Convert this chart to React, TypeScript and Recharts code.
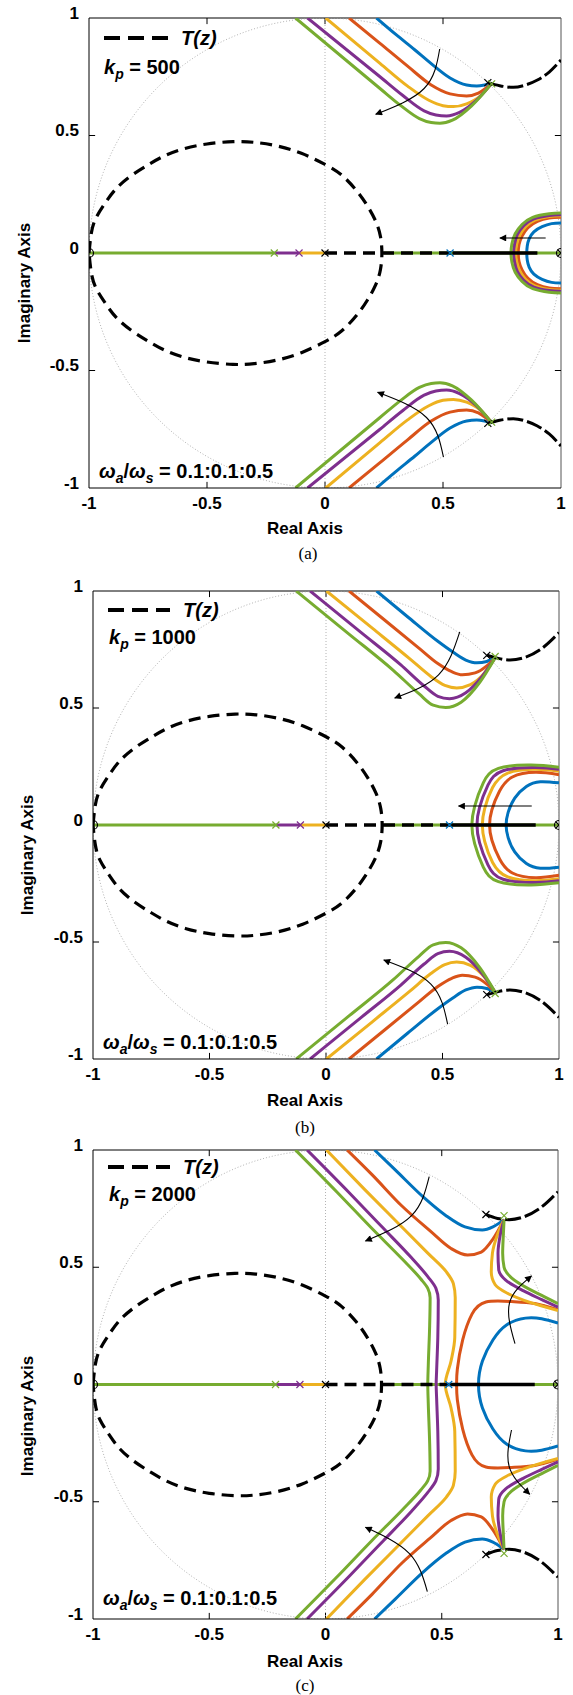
import React from "react";
import { ComposedChart, Line, Scatter, XAxis, YAxis, ReferenceLine } from "recharts";

type Pt = [number, number];

const BLUE = "#0072BD";
const RED = "#D95319";
const YELLOW = "#EDB120";
const PURPLE = "#7E2F8E";
const GREEN = "#77AC30";
const COLORS = [BLUE, RED, YELLOW, PURPLE, GREEN];

const TICKS = [-1, -0.5, 0, 0.5, 1];
const INNER_TICKS = [-0.5, 0, 0.5];
const GAINS = ["500", "1000", "2000"];
const CAPTIONS = ["(a)", "(b)", "(c)"];
const RATIO_LABEL = "0.1:0.1:0.5";

// T(z) closed loop, upper half (same in every panel)
const T_LOOP_UPPER: Pt[] = [
  [-1, 0], [-0.99, 0.085], [-0.97, 0.15], [-0.93, 0.215], [-0.884, 0.275], [-0.82, 0.33],
  [-0.75, 0.375], [-0.683, 0.412], [-0.6, 0.443], [-0.5, 0.464], [-0.39, 0.474], [-0.3, 0.471],
  [-0.205, 0.456], [-0.1, 0.424], [0, 0.377], [0.07, 0.332], [0.134, 0.265], [0.18, 0.2],
  [0.215, 0.135], [0.235, 0.07], [0.241, 0],
];

// ---- panel (a), kp = 500 : upper branches blue..green
const A_UPPER: Pt[][] = [
  [[0.218, 1], [0.3, 0.93], [0.38, 0.865], [0.45, 0.806], [0.53, 0.745], [0.6, 0.715], [0.643, 0.711], [0.68, 0.716], [0.706, 0.722]],
  [[0.102, 1], [0.233, 0.892], [0.35, 0.795], [0.45, 0.715], [0.53, 0.677], [0.6, 0.668], [0.65, 0.68], [0.68, 0.7], [0.706, 0.722]],
  [[0.003, 1], [0.233, 0.807], [0.35, 0.71], [0.44, 0.65], [0.5, 0.627], [0.544, 0.623], [0.6, 0.635], [0.66, 0.67], [0.706, 0.722]],
  [[-0.074, 1], [0.233, 0.75], [0.33, 0.67], [0.42, 0.605], [0.47, 0.587], [0.515, 0.583], [0.57, 0.598], [0.64, 0.648], [0.706, 0.722]],
  [[-0.125, 1], [0.233, 0.7], [0.32, 0.628], [0.4, 0.572], [0.45, 0.555], [0.487, 0.552], [0.54, 0.565], [0.62, 0.625], [0.706, 0.722]],
];
const A_LOOPS: Pt[][] = [
  [[1, 0.128], [0.96, 0.125], [0.92, 0.112], [0.885, 0.09], [0.865, 0.06], [0.857, 0.03], [0.855, 0]],
  [[1, 0.152], [0.95, 0.149], [0.9, 0.135], [0.86, 0.108], [0.835, 0.072], [0.822, 0.035], [0.819, 0]],
  [[1, 0.158], [0.95, 0.155], [0.89, 0.14], [0.85, 0.112], [0.825, 0.075], [0.812, 0.036], [0.808, 0]],
  [[1, 0.163], [0.95, 0.16], [0.885, 0.145], [0.842, 0.116], [0.815, 0.078], [0.803, 0.037], [0.799, 0]],
  [[1, 0.17], [0.95, 0.167], [0.88, 0.152], [0.835, 0.121], [0.806, 0.082], [0.792, 0.039], [0.788, 0]],
];
const A_BLACK: Pt[] = [[0.69, 0.725], [0.74, 0.712], [0.798, 0.705], [0.85, 0.715], [0.9, 0.736], [0.95, 0.77], [1, 0.821]];
const A_ARROWS: Pt[][] = [
  [[0.486, 0.868], [0.42, 0.7], [0.215, 0.59]],
  [[0.502, -0.869], [0.43, -0.7], [0.223, -0.593]],
  [[0.935, 0.064], [0.741, 0.064]],
];

// ---- panel (b), kp = 1000
const B_UPPER: Pt[][] = [
  [[0.217, 1], [0.35, 0.89], [0.48, 0.785], [0.546, 0.738], [0.6, 0.705], [0.648, 0.693], [0.69, 0.699], [0.726, 0.715]],
  [[0.099, 1], [0.25, 0.877], [0.4, 0.755], [0.48, 0.69], [0.54, 0.655], [0.585, 0.642], [0.64, 0.65], [0.69, 0.68], [0.726, 0.715]],
  [[0.002, 1], [0.2, 0.84], [0.36, 0.71], [0.45, 0.635], [0.51, 0.597], [0.561, 0.586], [0.62, 0.6], [0.68, 0.65], [0.726, 0.715]],
  [[-0.068, 1], [0.15, 0.823], [0.32, 0.685], [0.42, 0.595], [0.48, 0.55], [0.53, 0.54], [0.6, 0.565], [0.67, 0.635], [0.726, 0.715]],
  [[-0.128, 1], [0.1, 0.815], [0.29, 0.66], [0.4, 0.56], [0.46, 0.512], [0.514, 0.502], [0.58, 0.525], [0.66, 0.61], [0.726, 0.715]],
];
const B_LOOPS: Pt[][] = [
  [[1, 0.18], [0.92, 0.185], [0.86, 0.165], [0.81, 0.115], [0.782, 0.055], [0.773, 0]],
  [[1, 0.215], [0.9, 0.225], [0.8, 0.205], [0.745, 0.145], [0.712, 0.065], [0.702, 0]],
  [[1, 0.23], [0.9, 0.238], [0.78, 0.222], [0.715, 0.16], [0.681, 0.07], [0.671, 0]],
  [[1, 0.238], [0.9, 0.246], [0.76, 0.232], [0.695, 0.17], [0.659, 0.075], [0.648, 0]],
  [[1, 0.247], [0.88, 0.256], [0.74, 0.242], [0.675, 0.18], [0.638, 0.08], [0.626, 0]],
];
const B_BLACK: Pt[] = [[0.69, 0.726], [0.74, 0.712], [0.79, 0.705], [0.85, 0.715], [0.92, 0.75], [1, 0.822]];
const B_ARROWS: Pt[][] = [
  [[0.574, 0.825], [0.483, 0.642], [0.295, 0.543]],
  [[0.522, -0.851], [0.45, -0.68], [0.248, -0.577]],
  [[0.883, 0.081], [0.569, 0.081]],
];

// ---- panel (c), kp = 2000
const C_UPPER: Pt[][] = [
  [[0.211, 1], [0.3, 0.915], [0.42, 0.8], [0.517, 0.721], [0.6, 0.672], [0.674, 0.659], [0.72, 0.672], [0.768, 0.703]],
  [[0.093, 1], [0.2, 0.895], [0.33, 0.76], [0.45, 0.655], [0.54, 0.58], [0.611, 0.552], [0.67, 0.565], [0.72, 0.62], [0.768, 0.703]],
];
const C_LEFT: Pt[][] = [
  [[0.004, 1], [0.17, 0.83], [0.32, 0.68], [0.44, 0.56], [0.52, 0.48], [0.55, 0.43], [0.558, 0.37], [0.556, 0.2], [0.54, 0.1], [0.515, 0]],
  [[-0.079, 1], [0.1, 0.82], [0.25, 0.665], [0.37, 0.54], [0.44, 0.46], [0.475, 0.41], [0.485, 0.36], [0.483, 0.2], [0.478, 0.06], [0.476, 0]],
  [[-0.129, 1], [0.05, 0.82], [0.2, 0.665], [0.33, 0.535], [0.41, 0.45], [0.44, 0.41], [0.45, 0.37], [0.448, 0.25], [0.442, 0.08], [0.44, 0]],
];
const C_POLE: Pt[][] = [
  [[0.768, 0.703], [0.74, 0.64], [0.718, 0.56], [0.713, 0.48], [0.73, 0.425], [0.78, 0.39], [0.88, 0.35], [1, 0.315]],
  [[0.768, 0.703], [0.752, 0.64], [0.742, 0.56], [0.745, 0.49], [0.775, 0.445], [0.85, 0.4], [0.93, 0.362], [1, 0.33]],
  [[0.768, 0.703], [0.765, 0.64], [0.762, 0.56], [0.768, 0.5], [0.8, 0.455], [0.87, 0.41], [0.94, 0.375], [1, 0.345]],
];
const C_LOOPS: Pt[][] = [
  [[1, 0.262], [0.93, 0.28], [0.86, 0.283], [0.78, 0.255], [0.72, 0.19], [0.675, 0.1], [0.658, 0]],
  [[1, 0.318], [0.9, 0.345], [0.8, 0.354], [0.69, 0.352], [0.63, 0.3], [0.59, 0.19], [0.567, 0.065], [0.564, 0]],
];
const C_BLACK: Pt[] = [[0.69, 0.725], [0.74, 0.708], [0.79, 0.703], [0.85, 0.714], [0.92, 0.75], [1, 0.822]];
const C_ARROWS: Pt[][] = [
  [[0.446, 0.886], [0.37, 0.72], [0.172, 0.612]],
  [[0.815, 0.174], [0.791, 0.346], [0.886, 0.463]],
  [[0.8, -0.194], [0.79, -0.35], [0.878, -0.468]],
  [[0.438, -0.883], [0.36, -0.72], [0.172, -0.609]],
];

// real-axis pieces
const REAL_GREEN: Pt[] = [[-1, 0], [-0.215, 0]];
const REAL_PURPLE: Pt[] = [[-0.215, 0], [-0.11, 0]];
const REAL_YELLOW: Pt[] = [[-0.11, 0], [0, 0]];
const REAL_GREEN_RIGHT: Pt[] = [[0.25, 0], [1, 0]];
const REAL_BLACK_DASH: Pt[] = [[0, 0], [0.54, 0]];
const REAL_BLACK_SOLID: Pt[] = [[0.54, 0], [0.9, 0]];

const BLACK_X: Pt[] = [[0, 0], [0.69, 0.725], [0.69, -0.725], [1, 0]];
const BLACK_O: Pt[] = [[-1, 0], [1, 0]];
const MEET_X = [0.706, 0.726, 0.768];

const conj = (pts: Pt[]): Pt[] => pts.map(([x, y]) => [x, -y] as Pt);
const throughAxis = (upper: Pt[]): Pt[] => [...upper, ...conj(upper).reverse().slice(1)];
const toObj = (pts: Pt[]) => pts.map(([x, y]) => ({ x, y }));

// unit circle reference (zgrid style)
const UNIT_CIRCLE: Pt[] = Array.from({ length: 145 }, (_, i) => {
  const a = (i / 144) * 2 * Math.PI;
  return [Math.cos(a), Math.sin(a)] as Pt;
});

type Curve = "monotone" | "monotoneY" | "natural" | "linear";
interface Trace {
  pts: Pt[];
  color: string;
  width: number;
  curve: Curve;
  dash?: string;
  arrow?: boolean;
}

const LW = 3;

function panelTraces(p: number): Trace[] {
  const t: Trace[] = [];
  const add = (pts: Pt[], color: string, width: number, curve: Curve, dash?: string, arrow?: boolean) =>
    t.push({ pts, color, width, curve, dash, arrow });

  add(REAL_GREEN, GREEN, 3, "linear");
  add(REAL_PURPLE, PURPLE, 3, "linear");
  add(REAL_YELLOW, YELLOW, 3, "linear");
  add(REAL_GREEN_RIGHT, GREEN, 3, "linear");

  if (p < 2) {
    const upper = p === 0 ? A_UPPER : B_UPPER;
    const loops = p === 0 ? A_LOOPS : B_LOOPS;
    upper.forEach((u, i) => {
      add(u, COLORS[i], LW, "monotone");
      add(conj(u), COLORS[i], LW, "monotone");
    });
    loops.forEach((l, i) => add(throughAxis(l), COLORS[i], LW, "natural"));
  } else {
    C_UPPER.forEach((u, i) => {
      add(u, COLORS[i], LW, "monotone");
      add(conj(u), COLORS[i], LW, "monotone");
    });
    C_LOOPS.forEach((l, i) => add(throughAxis(l), COLORS[i], LW, "natural"));
    C_LEFT.forEach((l, i) => add(throughAxis(l), COLORS[i + 2], LW, "monotoneY"));
    C_POLE.forEach((l, i) => {
      add(l, COLORS[i + 2], LW, "monotoneY");
      add(conj(l).reverse(), COLORS[i + 2], LW, "monotoneY");
    });
  }

  add(throughAxis(T_LOOP_UPPER), "#000", 3.2, "natural", "12 7");
  const black = [A_BLACK, B_BLACK, C_BLACK][p];
  add(black, "#000", 3, "monotone", "16 4");
  add(conj(black), "#000", 3, "monotone", "16 4");
  add(REAL_BLACK_DASH, "#000", 3.5, "linear", "12 7");
  add(REAL_BLACK_SOLID, "#000", 3.5, "linear");

  [A_ARROWS, B_ARROWS, C_ARROWS][p].forEach((a) => add(a, "#000", 1.1, a.length > 2 ? "natural" : "linear", undefined, true));
  return t;
}

const FONT = "Arial, 'Liberation Sans', Helvetica, sans-serif";
const fmt = (v: number) => (v === 0 ? "0" : String(v));

const XTick = (props: any) => (
  <text x={props.x} y={props.y + 21} textAnchor="middle" fontFamily={FONT} fontWeight="bold" fontSize={17} fill="#000">
    {fmt(props.payload.value)}
  </text>
);
const YTick = (props: any) => (
  <text x={props.x - 10} y={props.y + 0.5} textAnchor="end" fontFamily={FONT} fontWeight="bold" fontSize={17} fill="#000">
    {fmt(props.payload.value)}
  </text>
);

const crossShape = (color: string) => (props: any) => {
  const { cx, cy } = props;
  if (cx == null || cy == null) return <g />;
  const s = 3.5;
  return (
    <path
      d={`M${cx - s},${cy - s}L${cx + s},${cy + s}M${cx - s},${cy + s}L${cx + s},${cy - s}`}
      stroke={color}
      strokeWidth={1.2}
      fill="none"
    />
  );
};
const circleShape = (props: any) => {
  const { cx, cy } = props;
  if (cx == null || cy == null) return <g />;
  return <circle cx={cx} cy={cy} r={4.5} stroke="#000" strokeWidth={1.2} fill="none" />;
};

interface Layout {
  plotLeft: number;
  plotRight: number;
  plotTop: number;
  plotBottom: number;
  sampleX: [number, number];
  sampleY: number;
  tzX: number;
  kpX: number;
  kpY: number;
  omegaX: number;
  omegaY: number;
  imag: [number, number];
  real: [number, number];
  caption: [number, number];
}

const LAYOUTS: Layout[] = [
  { plotLeft: 89, plotRight: 561, plotTop: 18, plotBottom: 488, sampleX: [104, 168], sampleY: 38, tzX: 181, kpX: 104, kpY: 67, omegaX: 99, omegaY: 471, imag: [24, 283], real: [305, 528], caption: [308, 553] },
  { plotLeft: 93, plotRight: 559, plotTop: 591, plotBottom: 1059, sampleX: [108, 170], sampleY: 610, tzX: 183, kpX: 109, kpY: 637, omegaX: 103, omegaY: 1042, imag: [27, 855], real: [305, 1100], caption: [305, 1127] },
  { plotLeft: 93, plotRight: 558, plotTop: 1150, plotBottom: 1619, sampleX: [108, 170], sampleY: 1167, tzX: 183, kpX: 109, kpY: 1194, omegaX: 103, omegaY: 1598, imag: [27, 1416], real: [305, 1661], caption: [305, 1685] },
];

const abs = (x: number, y: number, extra: React.CSSProperties = {}): React.CSSProperties => ({
  position: "absolute",
  left: x,
  top: y,
  lineHeight: 1,
  whiteSpace: "nowrap",
  ...extra,
});

function Panel({ p }: { p: number }) {
  const L = LAYOUTS[p];
  const chartTop = L.plotTop - 18;
  const height = L.plotBottom - chartTop + 30;
  const traces = panelTraces(p);
  const tickLen = 0.026;
  const legendFont: React.CSSProperties = { fontFamily: FONT, fontWeight: "bold", fontSize: 20, color: "#000" };
  const subStyle: React.CSSProperties = { fontSize: 14, fontStyle: "italic" };

  return (
    <>
      <div style={abs(0, chartTop)}>
        <ComposedChart
          width={573}
          height={height}
          margin={{ top: 18, left: L.plotLeft - 60, right: 573 - L.plotRight, bottom: 0 }}
        >
          <XAxis
            dataKey="x"
            type="number"
            domain={[-1, 1]}
            ticks={TICKS}
            interval={0}
            allowDataOverflow
            height={30}
            tickSize={0}
            tickMargin={0}
            tick={XTick}
            axisLine={{ stroke: "#000", strokeWidth: 1 }}
          />
          <YAxis
            dataKey="y"
            type="number"
            domain={[-1, 1]}
            ticks={TICKS}
            interval={0}
            allowDataOverflow
            width={60}
            tickSize={0}
            tickMargin={0}
            tick={YTick}
            axisLine={{ stroke: "#000", strokeWidth: 1 }}
          />
          <ReferenceLine y={1} stroke="#000" strokeWidth={1} />
          <ReferenceLine x={1} stroke="#555" strokeWidth={1} />
          {INNER_TICKS.map((v) => (
            <ReferenceLine key={`tb${v}`} segment={[{ x: v, y: -1 }, { x: v, y: -1 + tickLen }]} stroke="#000" />
          ))}
          {INNER_TICKS.map((v) => (
            <ReferenceLine key={`tt${v}`} segment={[{ x: v, y: 1 }, { x: v, y: 1 - tickLen }]} stroke="#000" />
          ))}
          {INNER_TICKS.map((v) => (
            <ReferenceLine key={`tl${v}`} segment={[{ x: -1, y: v }, { x: -1 + tickLen, y: v }]} stroke="#000" />
          ))}
          {INNER_TICKS.map((v) => (
            <ReferenceLine key={`tr${v}`} segment={[{ x: 1, y: v }, { x: 1 - tickLen, y: v }]} stroke="#000" />
          ))}
          <Line
            data={toObj(UNIT_CIRCLE)}
            dataKey="y"
            type="linear"
            stroke="#a0a0a0"
            strokeWidth={0.8}
            strokeDasharray="1 2"
            dot={false}
            activeDot={false}
            isAnimationActive={false}
          />
          <Line
            data={toObj([[0, -1], [0, 1]])}
            dataKey="y"
            type="linear"
            stroke="#a0a0a0"
            strokeWidth={0.8}
            strokeDasharray="1 2"
            dot={false}
            activeDot={false}
            isAnimationActive={false}
          />
          {traces.map((tr, i) => (
            <Line
              key={`tr${i}`}
              data={toObj(tr.pts)}
              dataKey="y"
              type={tr.curve}
              stroke={tr.color}
              strokeWidth={tr.width}
              strokeDasharray={tr.dash}
              markerEnd={tr.arrow ? "url(#rl-arrow)" : undefined}
              dot={false}
              activeDot={false}
              isAnimationActive={false}
            />
          ))}
          <Scatter data={toObj(BLACK_O)} dataKey="y" shape={circleShape} isAnimationActive={false} />
          <Scatter data={toObj(BLACK_X)} dataKey="y" shape={crossShape("#000")} isAnimationActive={false} />
          <Scatter
            data={toObj([[-0.215, 0], [MEET_X[p], 0.72], [MEET_X[p], -0.72]])}
            dataKey="y"
            shape={crossShape(GREEN)}
            isAnimationActive={false}
          />
          <Scatter data={toObj([[-0.11, 0]])} dataKey="y" shape={crossShape(PURPLE)} isAnimationActive={false} />
          <Scatter data={toObj([[0.53, 0]])} dataKey="y" shape={crossShape(BLUE)} isAnimationActive={false} />
        </ComposedChart>
      </div>

      <svg style={abs(L.sampleX[0], L.sampleY - 3)} width={L.sampleX[1] - L.sampleX[0]} height={6}>
        <line x1={0} y1={3} x2={L.sampleX[1] - L.sampleX[0]} y2={3} stroke="#000" strokeWidth={4} strokeDasharray="16 8" />
      </svg>
      <div style={abs(L.tzX, L.sampleY - 10, { ...legendFont, fontStyle: "italic" })}>T(z)</div>
      <div style={abs(L.kpX, L.kpY - 10, legendFont)}>
        <i>k</i>
        <sub style={subStyle}>p</sub> = {GAINS[p]}
      </div>
      <div style={abs(L.omegaX, L.omegaY - 10, legendFont)}>
        <i>ω</i>
        <sub style={subStyle}>a</sub>/<i>ω</i>
        <sub style={subStyle}>s</sub> = {RATIO_LABEL}
      </div>
      <div
        style={abs(L.imag[0], L.imag[1], {
          fontFamily: FONT,
          fontWeight: "bold",
          fontSize: 17,
          transform: "translate(-50%, -50%) rotate(-90deg)",
        })}
      >
        Imaginary Axis
      </div>
      <div style={abs(L.real[0], L.real[1], { fontFamily: FONT, fontWeight: "bold", fontSize: 17, transform: "translate(-50%, -50%)" })}>
        Real Axis
      </div>
      <div
        style={abs(L.caption[0], L.caption[1], {
          fontFamily: "'Times New Roman', 'Liberation Serif', serif",
          fontSize: 17,
          transform: "translate(-50%, -50%)",
        })}
      >
        {CAPTIONS[p]}
      </div>
    </>
  );
}

export default function App() {
  return (
    <div style={{ position: "absolute", left: 0, top: 0, width: 573, height: 1695, background: "#fff" }}>
      <svg width={0} height={0} style={{ position: "absolute" }}>
        <defs>
          <marker
            id="rl-arrow"
            viewBox="0 0 10 10"
            refX={9}
            refY={5}
            markerWidth={8}
            markerHeight={7}
            markerUnits="userSpaceOnUse"
            orient="auto"
          >
            <path d="M0,0 L10,5 L0,10 z" fill="#000" />
          </marker>
        </defs>
      </svg>
      {[0, 1, 2].map((p) => (
        <Panel key={p} p={p} />
      ))}
    </div>
  );
}
